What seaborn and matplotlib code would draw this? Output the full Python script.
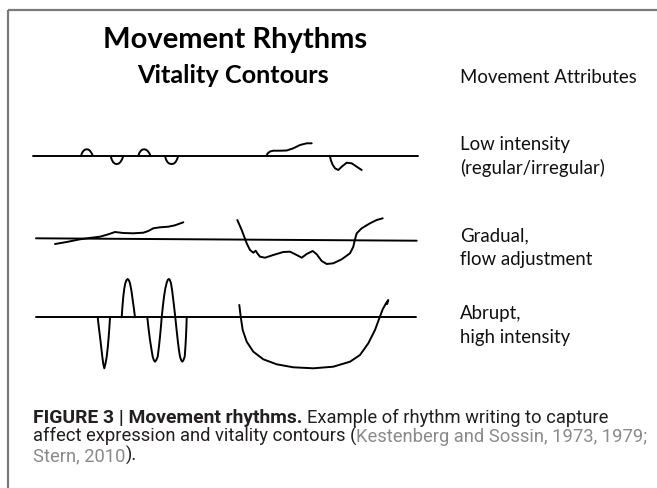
import pandas as pd
import seaborn as sns
import matplotlib.pyplot as plt

# Hand-drawn rhythm strokes (pixel coords, y down)
# Row 1: low intensity
base1_x = [33, 418]
base1_y = [156, 156]
bump1_x = [81, 82, 83.5, 85, 86.7, 88.5, 90, 91.5, 93]
bump1_y = [156, 153, 150.8, 149.6, 149.3, 149.6, 150.8, 153, 156]
dip1_x = [110.7, 111.7, 113.2, 115, 116.7, 118.5, 120.2, 122, 123.3]
dip1_y = [156, 159.5, 162.3, 163.7, 164, 163.7, 162.3, 159.5, 156]
bump2_x = [138.3, 139.3, 140.8, 142.4, 144, 145.8, 147.5, 149.2, 150.7]
bump2_y = [156, 153, 150.8, 149.6, 149.3, 149.6, 150.8, 153, 156]
dip2_x = [165, 166, 167.6, 169.6, 171.7, 173.6, 175.4, 177, 178.3]
dip2_y = [156, 159.5, 162.3, 163.7, 164, 163.7, 162.3, 159.5, 156]
rise1_x = [266.7, 267.5, 270, 273.3, 280, 286.7, 293.3, 300, 306.7, 311.7]
rise1_y = [156, 153.5, 151.5, 150.7, 150.7, 150.5, 148.3, 145, 143.3, 143.3]
fall1_x = [330, 331, 332.5, 335, 338.3, 341.7, 346.7, 351.7, 356.7, 361.7]
fall1_y = [156.7, 160.5, 164.5, 168.3, 170, 166.7, 162.7, 163.3, 166.7, 170]

# Row 2: gradual, flow adjustment
base2_x = [36, 416.7]
base2_y = [238.3, 240.7]
flow_x = [55, 66.7, 80, 91.7, 100, 108.3, 115, 123.3, 133.3, 143.3, 148.3,
          153.3, 160, 168.3, 175, 183.3]
flow_y = [244, 242, 239.3, 237.7, 236.7, 234.3, 232, 233, 233.3, 232.7, 231,
          228.3, 227.3, 226.7, 225.3, 222.3]
adjust_x = [237.3, 241.7, 246.7, 250, 253.3, 255.7, 257.3, 260, 265, 273.3,
            283.3, 290, 296.7, 301.7, 306.7, 312.7, 316.7, 321.7, 326.7,
            333.3, 341.7, 350, 353.3, 355, 356.7, 361.7, 370, 376.7, 382.7]
adjust_y = [220, 230, 243.3, 250, 252.7, 250.7, 253.3, 256.7, 257.7, 255,
            252, 251.7, 255, 257.7, 254, 251, 254.3, 261, 264, 263.3, 259.3,
            253.3, 246.7, 239.3, 233.3, 228.3, 223.3, 220, 218.3]

# Row 3: abrupt, high intensity
base3_x = [36, 416]
base3_y = [317.3, 317.3]
spike1_x = [97.7, 98.8, 100, 101.2, 102.3, 103.3, 104.3, 105.4, 106.7, 107.8,
            108.7, 109.4, 110]
spike1_y = [317.3, 327, 336.7, 347, 356.7, 364, 368.3, 364, 356.7, 347,
            336.7, 327, 317.3]
spike2_x = [121.7, 122.4, 123.3, 124.2, 125.3, 126.4, 127.7, 128.9, 130,
            131.4, 132.7, 133.9, 135]
spike2_y = [317.3, 307, 296.7, 289, 283.3, 280.3, 279, 280.3, 283.3, 290.5,
            300, 308.5, 317.3]
spike3_x = [147.3, 148.6, 150, 151.4, 152.7, 153.8, 155, 156.3, 157.7, 158.9,
            160, 160.9, 161.7, 162.8, 164, 165.3, 166.7, 167.8, 169, 170,
            171, 172.2, 173.3, 174.3, 175.3, 176.5, 177.7, 178.8, 180, 181.1,
            182.3, 183.5, 184.7, 185.4, 186, 186.4, 186.7]
spike3_y = [317.3, 329, 340, 349, 356.7, 360, 361.7, 360, 356.7, 347,
            336.7, 327, 317.3, 307, 296.7, 288.5, 282.7, 279.8, 279, 280.3,
            283.3, 291, 300, 308.5, 317.3, 329, 340, 349, 356.7, 360, 361.7,
            360, 356.7, 347, 336.7, 327, 317.3]
bowl_x = [239.3, 240.7, 242.7, 246.7, 253.3, 263.3, 276.7, 293.3, 313.3,
          333.3, 350, 360, 368.3, 375, 379.3, 382.7, 386, 388.3, 387.2]
bowl_y = [305, 316.7, 330, 341.7, 351.7, 359.3, 364.3, 367.3, 368.3, 366.7,
          361.7, 355, 343.3, 330, 318.3, 309.3, 303.3, 300, 304]

# Text
title_main = "Movement Rhythms"
title_sub = "Vitality Contours"
attr_header = "Movement Attributes"
attr_labels = [("Low intensity", "(regular/irregular)"),
               ("Gradual,", "flow adjustment"),
               ("Abrupt,", "high intensity")]
attr_baselines = [150, 241, 319]

caption_lines = [
    [("FIGURE 3 | Movement rhythms.", "bold", "#231f20"),
     ("Example of rhythm writing to capture", "normal", "#231f20")],
    [("affect expression and vitality contours (", "normal", "#231f20"),
     ("Kestenberg and Sossin, 1973, 1979;", "normal", "#8a8a8a")],
    [("Stern, 2010", "normal", "#8a8a8a"),
     (").", "normal", "#231f20")],
]


def main():
    strokes = [
        ("base1", base1_x, base1_y), ("bump1", bump1_x, bump1_y),
        ("dip1", dip1_x, dip1_y), ("bump2", bump2_x, bump2_y),
        ("dip2", dip2_x, dip2_y), ("rise1", rise1_x, rise1_y),
        ("fall1", fall1_x, fall1_y),
        ("base2", base2_x, base2_y), ("flow", flow_x, flow_y),
        ("adjust", adjust_x, adjust_y),
        ("base3", base3_x, base3_y), ("spike1", spike1_x, spike1_y),
        ("spike2", spike2_x, spike2_y), ("spike3", spike3_x, spike3_y),
        ("bowl", bowl_x, bowl_y),
    ]
    frames = []
    for name, xs, ys in strokes:
        frames.append(pd.DataFrame({"stroke": name, "x": xs, "y": ys}))
    df = pd.concat(frames, ignore_index=True)

    sns.set_theme(style="white")
    plt.rcParams["font.family"] = ["Lato", "DejaVu Sans"]
    plt.rcParams["lines.solid_joinstyle"] = "round"
    plt.rcParams["lines.solid_capstyle"] = "round"

    fig = plt.figure(figsize=(6.57, 4.88), dpi=100)
    ax = fig.add_axes([0, 0, 1, 1])

    sns.lineplot(data=df, x="x", y="y", units="stroke", estimator=None,
                 sort=False, color="black", linewidth=1.4, ax=ax,
                 legend=False)

    ax.set_xlim(0, 657)
    ax.set_ylim(488, 0)
    ax.axis("off")

    # frame around the figure panel (top and left edges are visible)
    ax.plot([8, 657], [9.5, 9.5], color="#7a7a7a", lw=1.6,
            solid_capstyle="butt")
    ax.plot([8, 8], [9.5, 488], color="#7a7a7a", lw=1.6,
            solid_capstyle="butt")

    ax.text(235, 48, title_main, ha="center", va="baseline",
            fontsize=21, fontweight="bold", color="black")
    ax.text(233, 83, title_sub, ha="center", va="baseline",
            fontsize=18.2, fontweight="bold", color="black")
    ax.text(460, 83, attr_header, ha="left", va="baseline",
            fontsize=13.4, color="#111111")
    for (l1, l2), yb in zip(attr_labels, attr_baselines):
        ax.text(460, yb, l1, ha="left", va="baseline", fontsize=13.4,
                color="#111111")
        ax.text(460, yb + 24, l2, ha="left", va="baseline", fontsize=13.4,
                color="#111111")

    # caption: runs of mixed weight / colour on each line
    cap_font = ["Roboto", "DejaVu Sans"]
    renderer = fig.canvas.get_renderer()

    def text_w(s, size, weight="normal"):
        t = ax.text(0, 0, s, fontsize=size, fontweight=weight,
                    family=cap_font)
        w = t.get_window_extent(renderer).width
        t.remove()
        return w

    # sizes chosen so the lines span the panel as in the figure
    reg_size = 12 * (645 - 33) / text_w(
        "affect expression and vitality contours (Kestenberg and Sossin, "
        "1973, 1979;", 12)
    bold_size = 12 * (302 - 33) / text_w(caption_lines[0][0][0], 12, "bold")
    space_w = text_w("a a", reg_size) - text_w("aa", reg_size)

    cap_base = [423, 442, 461]
    for runs, yb in zip(caption_lines, cap_base):
        x = 33
        prev = None
        for text, weight, color in runs:
            if prev is not None and not text.startswith(")") \
                    and not prev.endswith("("):
                x += space_w
            size = bold_size if weight == "bold" else reg_size
            t = ax.text(x, yb, text, ha="left", va="baseline",
                        fontsize=size, fontweight=weight, color=color,
                        family=cap_font)
            x = t.get_window_extent(renderer).x1
            prev = text

    fig.savefig("out.png", dpi=100, facecolor="white")
    plt.close(fig)


if __name__ == "__main__":
    main()
